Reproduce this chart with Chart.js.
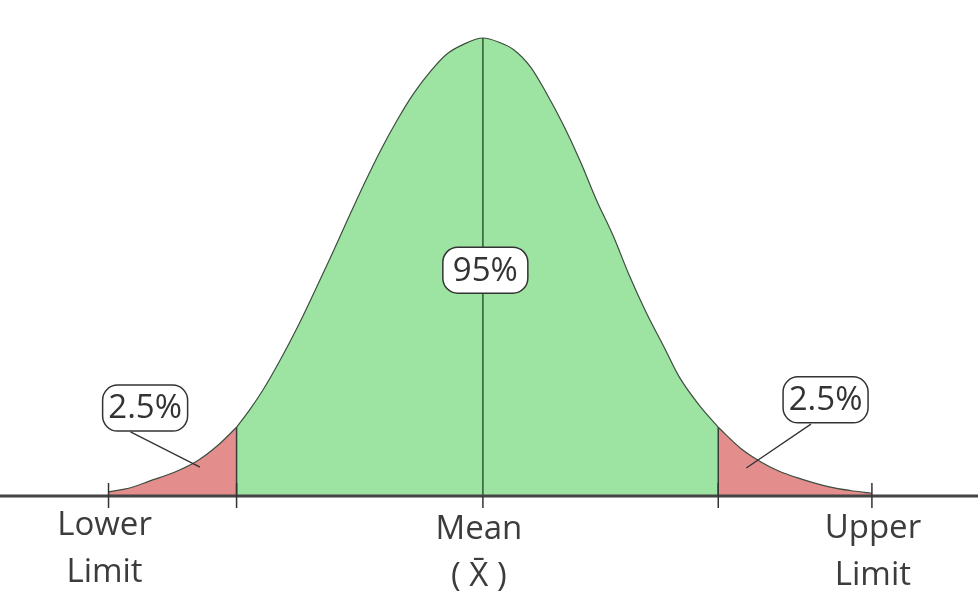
<!DOCTYPE html>
<html>
<head>
  <title>Normal Distribution - 95% Interval</title>
  <script src="https://cdn.jsdelivr.net/npm/chart.js"></script>
  <style>
    body { margin: 0; background: #fff; }
  </style>
</head>
<body>
  <canvas id="bellChart" width="978" height="608"></canvas>

<script>
  // curve: position (std devs from mean) and height (share of peak)
  const zPos    = [-3.07, -2.89, -2.73, -2.52, -2.34, -2.18, -2.02, -1.91, -1.80, -1.66, -1.52, -1.39,
                   -1.25, -1.11, -0.98, -0.84, -0.70, -0.57, -0.43, -0.30, -0.16, 0.00,
                    0.14, 0.25, 0.39, 0.52, 0.66, 0.80, 0.93, 1.07, 1.20, 1.34, 1.48, 1.61,
                    1.78, 1.93, 2.11, 2.27, 2.43, 2.60, 2.84, 3.01, 3.19];
  const heights = [0.009, 0.018, 0.033, 0.053, 0.077, 0.109, 0.150, 0.189, 0.233, 0.298, 0.369, 0.441,
                   0.521, 0.603, 0.678, 0.754, 0.822, 0.878, 0.927, 0.964, 0.986, 1.000,
                   0.990, 0.975, 0.937, 0.880, 0.810, 0.730, 0.647, 0.567, 0.482, 0.400, 0.328, 0.260,
                   0.196, 0.150, 0.105, 0.076, 0.054, 0.038, 0.020, 0.012, 0.006];

  const lowerLimit = -3.07, lowerCut = -2.02, mean = 0, upperCut = 1.93, upperLimit = 3.19;
  const centerShare = "95%";
  const tailShare = "2.5%";
  const axisLabels = [["Lower", "Limit"], ["Mean", "( X\u0304 )"], ["Upper", "Limit"]];

  const green = "#9de4a3";
  const red = "#e38d8d";
  const font = '33px "Open Sans"';

  function segment(from, to) {
    const pts = [];
    zPos.forEach((z, i) => {
      if (z >= from && z <= to) pts.push({ x: z, y: heights[i] });
    });
    return pts;
  }
  const heightAt = z => heights[zPos.indexOf(z)];

  function line(c, x1, y1, x2, y2) {
    c.beginPath(); c.moveTo(x1, y1); c.lineTo(x2, y2); c.stroke();
  }

  function tag(c, text, cx, cy) {
    const w = 85, h = 46;
    c.beginPath();
    c.roundRect(cx - w / 2, cy - h / 2, w, h, 15);
    c.fillStyle = "#fff"; c.fill();
    c.strokeStyle = "#333"; c.lineWidth = 1.5; c.stroke();
    c.fillStyle = "#333";
    c.fillText(text, cx, cy + 1);
  }

  const overlay = {
    id: "overlay",
    afterDatasetsDraw(chart) {
      const c = chart.ctx, xs = chart.scales.x, ys = chart.scales.y;
      const px = v => xs.getPixelForValue(v), py = v => ys.getPixelForValue(v);
      const base = py(0);
      c.save();

      // cut lines and mean line
      c.strokeStyle = "#3a3a3a"; c.lineWidth = 1.5;
      [lowerCut, upperCut].forEach(z => line(c, px(z), base, px(z), py(heightAt(z))));
      c.strokeStyle = "#2c5a31";
      line(c, px(mean), base, px(mean), py(heightAt(mean)));

      // axis
      c.strokeStyle = "#444"; c.lineWidth = 3;
      line(c, 0, base, chart.width, base);
      c.strokeStyle = "#333"; c.lineWidth = 1.5;
      [lowerLimit, lowerCut, upperCut, upperLimit].forEach(z => line(c, px(z), base - 13, px(z), base + 12));
      line(c, px(mean), base, px(mean), base + 12);

      // leaders from the tags to the tails
      c.lineWidth = 1.3;
      line(c, px(-2.89), py(0.14), px(-2.32), py(0.063));
      line(c, px(2.69), py(0.157), px(2.16), py(0.061));

      c.font = font;
      c.textAlign = "center"; c.textBaseline = "middle";
      tag(c, tailShare, px(-2.77), py(0.192));
      tag(c, centerShare, px(0.02), py(0.493));
      tag(c, tailShare, px(2.81), py(0.210));

      // axis labels
      c.fillStyle = "#3c3c3c"; c.textBaseline = "alphabetic";
      [[lowerLimit, 0, -4], [mean, 4, -4], [upperLimit, 3, 1]].forEach(([z, dy, dx], i) => {
        c.fillText(axisLabels[i][0], px(z) + dx, base + 39 + dy);
        c.fillText(axisLabels[i][1], px(z) + dx, base + 86 + dy);
      });
      c.restore();
    }
  };

  const curveStyle = { borderColor: "#3d4d3f", borderWidth: 1.2, pointRadius: 0, fill: "origin",
                       cubicInterpolationMode: "monotone" };

  new Chart(document.getElementById("bellChart"), {
    type: "line",
    data: {
      datasets: [
        { ...curveStyle, data: segment(lowerLimit, lowerCut), backgroundColor: red },
        { ...curveStyle, data: segment(lowerCut, upperCut), backgroundColor: green },
        { ...curveStyle, data: segment(upperCut, upperLimit), backgroundColor: red }
      ]
    },
    options: {
      responsive: false,
      animation: false,
      layout: { padding: { top: 38, bottom: 112, left: 0, right: 0 } },
      plugins: { legend: { display: false }, tooltip: { enabled: false } },
      scales: {
        x: { type: "linear", min: -3.96, max: 4.06, display: false },
        y: { min: 0, max: 1, display: false }
      },
      clip: false
    },
    plugins: [overlay]
  });
</script>
</body>
</html>
